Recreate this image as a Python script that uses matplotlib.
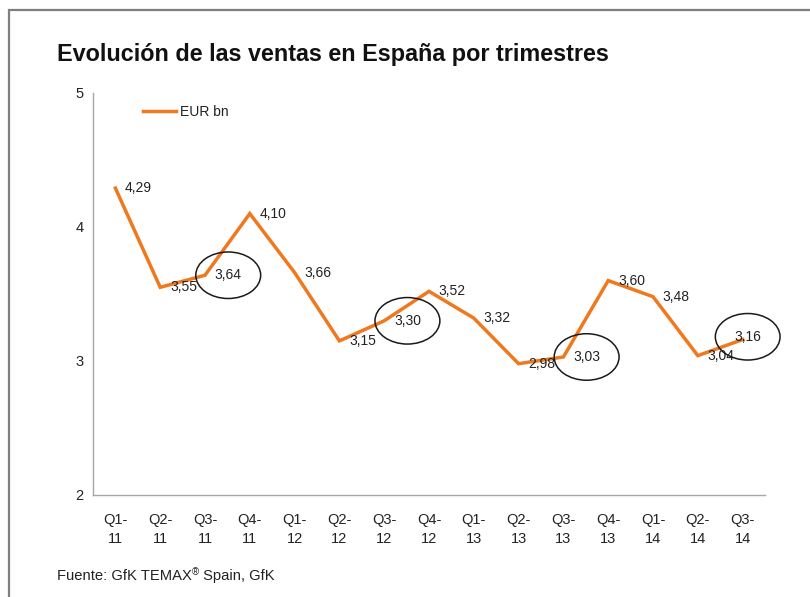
import matplotlib
matplotlib.use("Agg")
import matplotlib.pyplot as plt
from matplotlib.patches import Rectangle

plt.rcParams['font.family'] = ['Liberation Sans', 'DejaVu Sans']

categories = ["Q1-\n11", "Q2-\n11", "Q3-\n11", "Q4-\n11", "Q1-\n12", "Q2-\n12", "Q3-\n12",
              "Q4-\n12", "Q1-\n13", "Q2-\n13", "Q3-\n13", "Q4-\n13", "Q1-\n14", "Q2-\n14", "Q3-\n14"]
values = [4.29, 3.55, 3.64, 4.10, 3.66, 3.15, 3.30, 3.52, 3.32, 2.98, 3.03, 3.60, 3.48, 3.04, 3.16]
labels = ["4,29", "3,55", "3,64", "4,10", "3,66", "3,15", "3,30", "3,52", "3,32", "2,98",
          "3,03", "3,60", "3,48", "3,04", "3,16"]
circled = [2, 6, 10, 14]
series_name = "EUR bn"
yticks = [2, 3, 4, 5]

title = "Evolución de las ventas en España por trimestres"
orange = "#F0781E"
axis_gray = "#A6A6A6"

fig = plt.figure(figsize=(8.10, 5.97), dpi=100)
fig.patch.set_facecolor("white")
# outer frame
fig.add_artist(Rectangle((9 / 810, -0.05), 1.2, 1 - 10 / 597 + 0.05, transform=fig.transFigure,
                         fill=False, edgecolor="#7F7F7F", linewidth=1.6))

ax = fig.add_axes([93 / 810, 1 - 495 / 597, (765 - 93) / 810, (495 - 93) / 597])
x = list(range(len(values)))
ax.plot(x, values, color=orange, linewidth=2.5, label=series_name, solid_joinstyle="miter")

ax.set_xlim(-0.5, len(values) - 0.5)
ax.set_ylim(2, 5)
ax.set_yticks(yticks)
ax.set_yticklabels([str(t) for t in yticks])
ax.set_xticks(x)
ax.set_xticklabels(categories, linespacing=1.45)
ax.tick_params(axis="both", length=0, labelsize=10.5, colors="#222222")
ax.tick_params(axis="x", pad=13)
ax.tick_params(axis="y", pad=7)
for s in ["top", "right"]:
    ax.spines[s].set_visible(False)
for s in ["left", "bottom"]:
    ax.spines[s].set_color(axis_gray)
    ax.spines[s].set_linewidth(1.0)

last = len(values) - 1
for i, (xv, yv, lab) in enumerate(zip(x, values, labels)):
    kw = {}
    if i in circled:
        kw["bbox"] = dict(boxstyle="ellipse,pad=0.68", fc="none", ec="#1a1a1a", lw=1.1)
    dx = -6 if i == last else 7
    dy = 2 if i == last else 0
    ax.annotate(lab, (xv, yv), xytext=(dx, dy), textcoords="offset points",
                ha="left", va="center", fontsize=10, color="#222222", **kw)

leg = ax.legend(loc="center left", bbox_to_anchor=(0.066, 0.953), frameon=False,
                handlelength=2.4, handletextpad=0.3, fontsize=10, borderaxespad=0)
for t in leg.get_texts():
    t.set_color("#222222")

fig.text(57 / 810, 1 - 55 / 597, title, fontsize=16.8, fontweight="bold", va="center", ha="left",
         color="#111111")

# footer with superscript ®
fig.canvas.draw()
r = fig.canvas.get_renderer()
fy = 1 - 576 / 597
t1 = fig.text(57 / 810, fy, "Fuente: GfK TEMAX", fontsize=10.6, va="center", ha="left",
              color="#222222")
bb = t1.get_window_extent(renderer=r)
t2 = fig.text(bb.x1 / 810, (bb.y1 - 3) / 597, "®", fontsize=7, va="center", ha="left",
              color="#222222")
bb2 = t2.get_window_extent(renderer=r)
fig.text(bb2.x1 / 810, fy, " Spain, GfK", fontsize=10.6, va="center", ha="left",
         color="#222222")

fig.savefig("out.png", dpi=100, facecolor="white")
